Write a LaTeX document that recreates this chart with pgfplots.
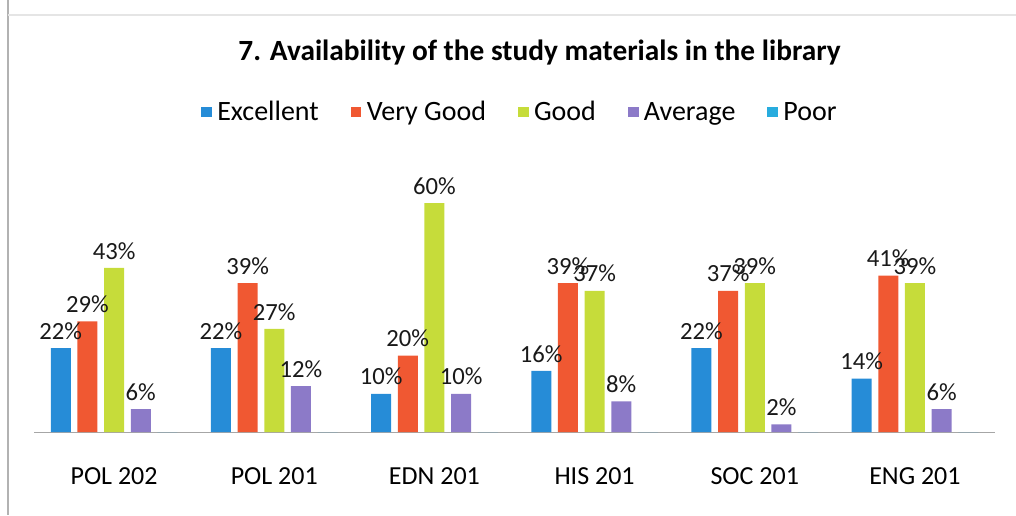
\documentclass[border=0pt]{standalone}
\usepackage{fontspec}
\setmainfont{Carlito}
\usepackage{pgfplots}
\pgfplotsset{compat=1.18}

\definecolor{cExc}{RGB}{38,140,215}
\definecolor{cVG}{RGB}{240,88,50}
\definecolor{cGood}{RGB}{198,220,58}
\definecolor{cAvg}{RGB}{140,122,200}
\definecolor{cPoor}{RGB}{40,172,222}

\begin{document}
\begin{tikzpicture}
\draw[gray!60, line width=0.8pt] (6pt,386.25pt) -- (6pt,0pt);
\draw[gray!20, line width=0.8pt] (6pt,375pt) -- (762pt,375pt);
\begin{axis}[
    at={(25.5pt,62.25pt)}, anchor=south west,
    scale only axis,
    width=720.75pt, height=186pt,
    ybar=5pt, bar width=15pt,
    xmin=-0.5, xmax=5.5, ymin=0, ymax=65,
    axis x line=bottom, axis y line=none,
    x axis line style={gray!70, -},
    xtick={0,1,2,3,4,5},
    xticklabels={POL 202,POL 201,EDN 201,HIS 201,SOC 201,ENG 201},
    major tick length=0pt,
    xticklabel style={font=\fontsize{19.5}{22}\selectfont, yshift=-23pt},
    /pgf/number format/assume math mode=true,
    nodes near coords style={font=\fontsize{18.5}{20}\selectfont, color=black!90, yshift=3pt},
    title={\bfseries 7. Availability of the study materials in the library},
    title style={font=\fontsize{22}{25}\selectfont, at={(0.526,1.496)}, anchor=center},
    legend columns=5,
    legend style={draw=none, fill=none, at={(0.506,1.29)}, anchor=center,
        font=\fontsize{21}{24}\selectfont,
        /tikz/every odd column/.append style={column sep=2pt},
        /tikz/every even column/.append style={column sep=22pt}},
    legend image code/.code={\fill[#1] (0pt,-4pt) rectangle (8pt,4pt);},
]
\addplot[fill=cExc, draw=none, nodes near coords={\pgfmathprintnumber{\pgfplotspointmeta}\%}]
    coordinates {(0,22) (1,22) (2,10) (3,16) (4,22) (5,14)};
\addplot[fill=cVG, draw=none, nodes near coords={\pgfmathprintnumber{\pgfplotspointmeta}\%}]
    coordinates {(0,29) (1,39) (2,20) (3,39) (4,37) (5,41)};
\addplot[fill=cGood, draw=none, nodes near coords={\pgfmathprintnumber{\pgfplotspointmeta}\%}]
    coordinates {(0,43) (1,27) (2,60) (3,37) (4,39) (5,39)};
\addplot[fill=cAvg, draw=none, nodes near coords={\pgfmathprintnumber{\pgfplotspointmeta}\%}]
    coordinates {(0,6) (1,12) (2,10) (3,8) (4,2) (5,6)};
\addplot[fill=cPoor, draw=none]
    coordinates {(0,0) (1,0) (2,0) (3,0) (4,0) (5,0)};
\legend{Excellent, Very Good, Good, Average, Poor}
\end{axis}
\pgfresetboundingbox
\useasboundingbox (0pt,0pt) rectangle (762pt,386.25pt);
\end{tikzpicture}
\end{document}
